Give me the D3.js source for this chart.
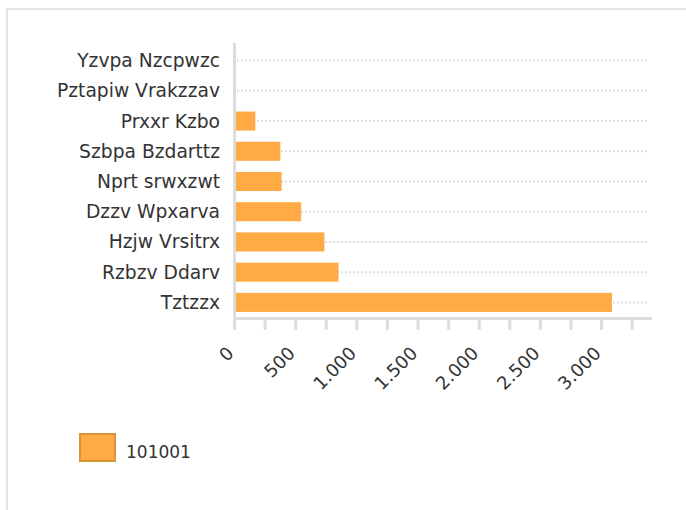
<!DOCTYPE html>
<html>
<head>
<meta charset="utf-8">
<script src="https://cdn.jsdelivr.net/npm/d3@7"></script>
<style>
  body { margin: 0; background: #fff; }
  text { font-family: "DejaVu Sans", Verdana, sans-serif; fill: #333; }
</style>
</head>
<body>
<svg id="chart" width="686" height="510"></svg>
<script>
// chart data
const categories = ['Yzvpa Nzcpwzc', 'Pztapiw Vrakzzav', 'Prxxr Kzbo', 'Szbpa Bzdarttz',
  'Nprt srwxzwt', 'Dzzv Wpxarva', 'Hzjw Vrsitrx', 'Rzbzv Ddarv', 'Tztzzx']
const values = [0, 0, 170, 375, 385, 545, 735, 850, 3085]
const seriesName = '101001'
const tickValues = d3.range(0, 3251, 250)

const svg = d3.select('#chart')

// panel border (left + top)
svg.append('path')
  .attr('d', 'M7,510 V9 H686')
  .attr('fill', 'none')
  .attr('stroke', '#e3e3e3')
  .attr('stroke-width', 2)

const x = d3.scaleLinear().domain([0, 3400]).range([234.5, 650.5])
const y = d3.scaleBand().domain(categories).range([45.5, 317.5]).paddingInner(0.37).paddingOuter(0.185)

const fmt = d3.formatLocale({ decimal: ',', thousands: '.', grouping: [3], currency: ['', ''] }).format(',d')

// dotted gridlines
svg.append('g')
  .selectAll('line')
  .data(categories)
  .enter()
  .append('line')
  .attr('x1', 237)
  .attr('x2', 648)
  .attr('y1', d => y(d) + y.bandwidth() / 2)
  .attr('y2', d => y(d) + y.bandwidth() / 2)
  .attr('stroke', '#dedede')
  .attr('stroke-width', 2)
  .attr('stroke-dasharray', '2,2')

// bars
svg.append('g')
  .selectAll('rect')
  .data(values)
  .enter()
  .append('rect')
  .attr('x', x(0))
  .attr('y', (d, i) => y(categories[i]))
  .attr('width', d => x(d) - x(0))
  .attr('height', y.bandwidth())
  .attr('fill', '#ffaa44')

// y axis line + labels
svg.append('line')
  .attr('x1', 234.5).attr('x2', 234.5)
  .attr('y1', 43).attr('y2', 320)
  .attr('stroke', '#dddddd').attr('stroke-width', 3)

svg.append('g')
  .selectAll('text')
  .data(categories)
  .enter()
  .append('text')
  .attr('x', 220)
  .attr('y', d => y(d) + y.bandwidth() / 2)
  .attr('dy', '0.35em')
  .attr('text-anchor', 'end')
  .style('font-size', '18.7px')
  .text(d => d)

// x axis
svg.append('line')
  .attr('x1', 233).attr('x2', 652)
  .attr('y1', 318.5).attr('y2', 318.5)
  .attr('stroke', '#dddddd').attr('stroke-width', 3)

svg.append('g')
  .selectAll('line')
  .data(tickValues)
  .enter()
  .append('line')
  .attr('x1', d => x(d)).attr('x2', d => x(d))
  .attr('y1', 318).attr('y2', 330)
  .attr('stroke', '#dddddd').attr('stroke-width', 3)

svg.append('g')
  .selectAll('text')
  .data(tickValues.filter(v => v % 500 === 0))
  .enter()
  .append('text')
  .attr('transform', d => `translate(${x(d) - 4},${350}) rotate(-45)`)
  .attr('text-anchor', 'end')
  .attr('dy', '0.35em')
  .style('font-size', '18px')
  .text(d => fmt(d))

// legend
svg.append('rect')
  .attr('x', 80).attr('y', 434)
  .attr('width', 35).attr('height', 27)
  .attr('fill', '#ffaa44')
  .attr('stroke', '#d9943b').attr('stroke-width', 2)

svg.append('text')
  .attr('x', 126).attr('y', 452)
  .attr('dy', '0.35em')
  .style('font-size', '17px')
  .text(seriesName)
</script>
</body>
</html>
